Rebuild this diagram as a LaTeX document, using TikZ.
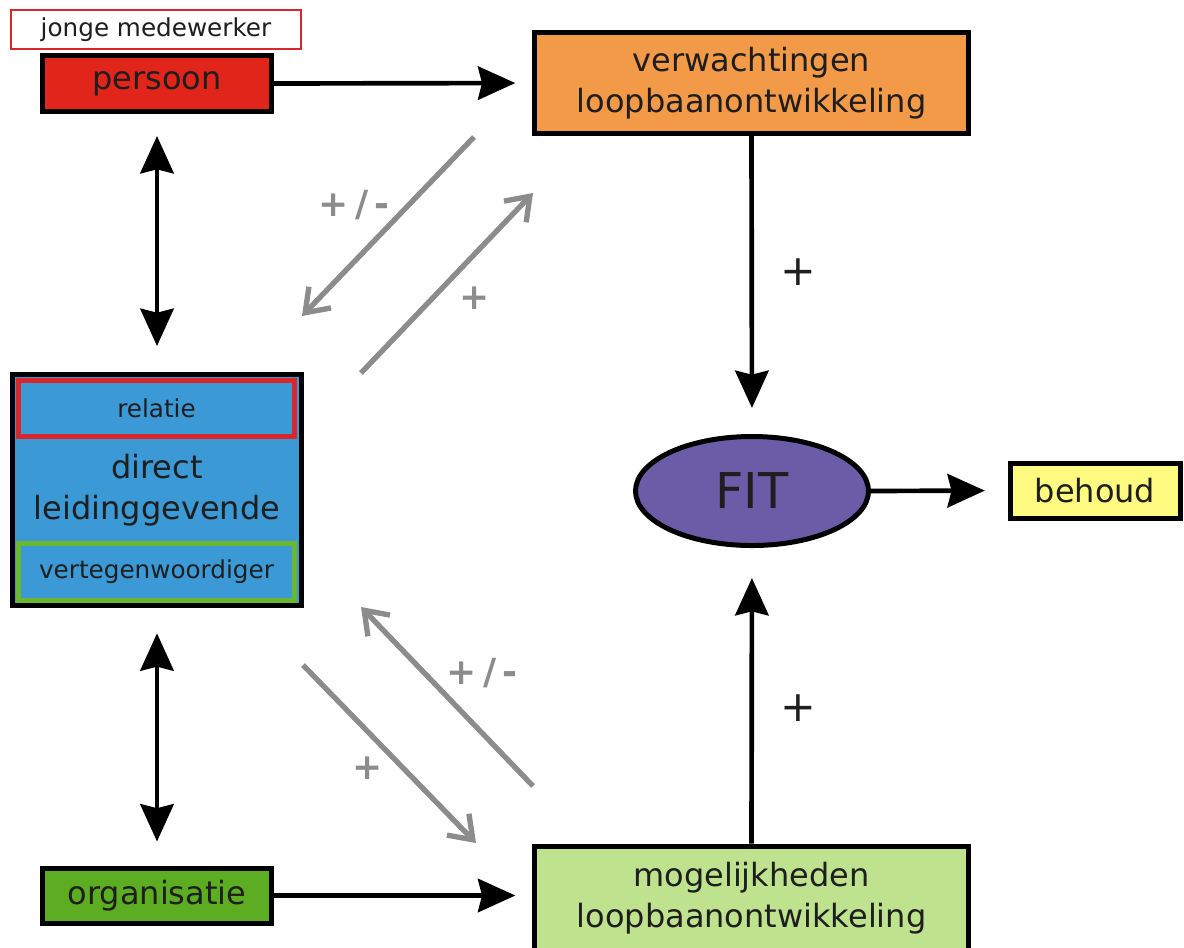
\documentclass[tikz,border=0pt]{standalone}
\usepackage{fontspec}
\setmainfont{DejaVu Sans}
\usetikzlibrary{arrows.meta,shapes.geometric}
\definecolor{txt}{HTML}{1E1E1E}
\definecolor{cred}{HTML}{E1251B}
\definecolor{corange}{HTML}{F29A48}
\definecolor{cblue}{HTML}{3B99D6}
\definecolor{cpurple}{HTML}{6A5CA6}
\definecolor{cyellow}{HTML}{FFFA80}
\definecolor{clgreen}{HTML}{BFE28E}
\definecolor{cdgreen}{HTML}{5DAD22}
\definecolor{cbgreen}{HTML}{6BB82E}
\definecolor{credb}{HTML}{D8262B}
\definecolor{cgray}{HTML}{8C8C8C}
\begin{document}
\begin{tikzpicture}[x=0.75pt,y=-0.75pt,
  box/.style={draw=black, line width=3.75pt, text=txt, font=\fontsize{24}{30.5}\selectfont, align=center, inner sep=0pt},
  small/.style={text=txt, font=\fontsize{18.5}{22}\selectfont, inner sep=0pt, align=center},
  blk/.style={line width=3.5pt, -{Stealth[length=28pt,width=25pt,inset=3pt]}},
  blkd/.style={line width=3.5pt, {Stealth[length=28pt,width=25pt,inset=3pt]}-{Stealth[length=28pt,width=25pt,inset=3pt]}},
  gry/.style={draw=cgray, line width=4pt, -{Straight Barb[length=16pt,width=23pt]}},
  glab/.style={text=cgray, font=\bfseries\fontsize{27}{30}\selectfont, inner sep=0pt},
  klab/.style={text=txt, font=\fontsize{32}{34}\selectfont, inner sep=0pt}]
\useasboundingbox (0,0) rectangle (1184,947);
\fill[white] (0,0) rectangle (1184,947);

% nodes
\node[box, fill=cred, minimum width={229*0.75pt}, minimum height={56*0.75pt}] (persoon) at (157,83.5) {persoon};
\node[small, draw=credb, line width=1.5pt, fill=white, minimum width={290*0.75pt}, minimum height={39*0.75pt}] (jong) at (156,29.5) {jonge medewerker};
\node[box, fill=corange, minimum width={434*0.75pt}, minimum height={101*0.75pt}] (verw) at (751.5,83) {verwachtingen\\loopbaanontwikkeling};
\node[box, ellipse, fill=cpurple, minimum width={233*0.75pt}, minimum height={109*0.75pt}, font=\fontsize{37}{40}\selectfont] (fit) at (752,491) {FIT};
\node[box, fill=cyellow, minimum width={170*0.75pt}, minimum height={55*0.75pt}] (behoud) at (1095,490.5) {behoud};
\node[box, fill=clgreen, minimum width={434*0.75pt}, minimum height={104*0.75pt}] (mog) at (751.5,898) {mogelijkheden\\loopbaanontwikkeling};
\node[box, fill=cdgreen, minimum width={229*0.75pt}, minimum height={55*0.75pt}] (org) at (157,895.5) {organisatie};
\node[box, fill=cblue, minimum width={289*0.75pt}, minimum height={231*0.75pt}] (lead) at (157,490) {direct\\leidinggevende};
\node[small, draw=credb, line width=3.75pt, fill=cblue, minimum width={276*0.75pt}, minimum height={56*0.75pt}] (relatie) at (156.5,408.5) {relatie};
\node[small, draw=cbgreen, line width=3.75pt, fill=cblue, minimum width={276*0.75pt}, minimum height={57*0.75pt}] (verteg) at (156.5,572) {vertegenwoordiger};

% black connectors
\draw[blk, shorten >=12.5pt] (persoon.east) -- (verw.west);
\draw[blk, shorten >=19.5pt] (verw.south) -- (fit.north);
\draw[blk, shorten >=22.5pt] (mog.north) -- (fit.south);
\draw[blk, shorten >=17pt] (fit.east) -- (behoud.west);
\draw[blk, shorten >=12.5pt] (org.east) -- (org.east -| mog.west);
\draw[blkd, shorten <=16.5pt, shorten >=19.5pt] (persoon.south) -- (lead.north);
\draw[blkd, shorten <=19pt, shorten >=18pt] (lead.south) -- (org.north);

% gray connectors
\coordinate (g1s) at (474,137);
\coordinate (g1e) at (302,316);
\coordinate (g2s) at (361,373);
\coordinate (g2e) at (533,193);
\coordinate (g3s) at (533,786);
\coordinate (g3e) at (361,607);
\coordinate (g4s) at (303,665);
\coordinate (g4e) at (476,843);
\draw[gry] (g1s) -- (g1e);
\draw[gry] (g2s) -- (g2e);
\draw[gry] (g3s) -- (g3e);
\draw[gry] (g4s) -- (g4e);

% labels
\node[glab] (l1) at (354,205) {+\,/\,-};
\node[glab] (l2) at (475,298) {+};
\node[glab] (l3) at (482,673) {+\,/\,-};
\node[glab] (l4) at (368,768) {+};
\node[klab] (l5) at (798,272) {+};
\node[klab] (l6) at (798,708) {+};
\end{tikzpicture}
\end{document}
